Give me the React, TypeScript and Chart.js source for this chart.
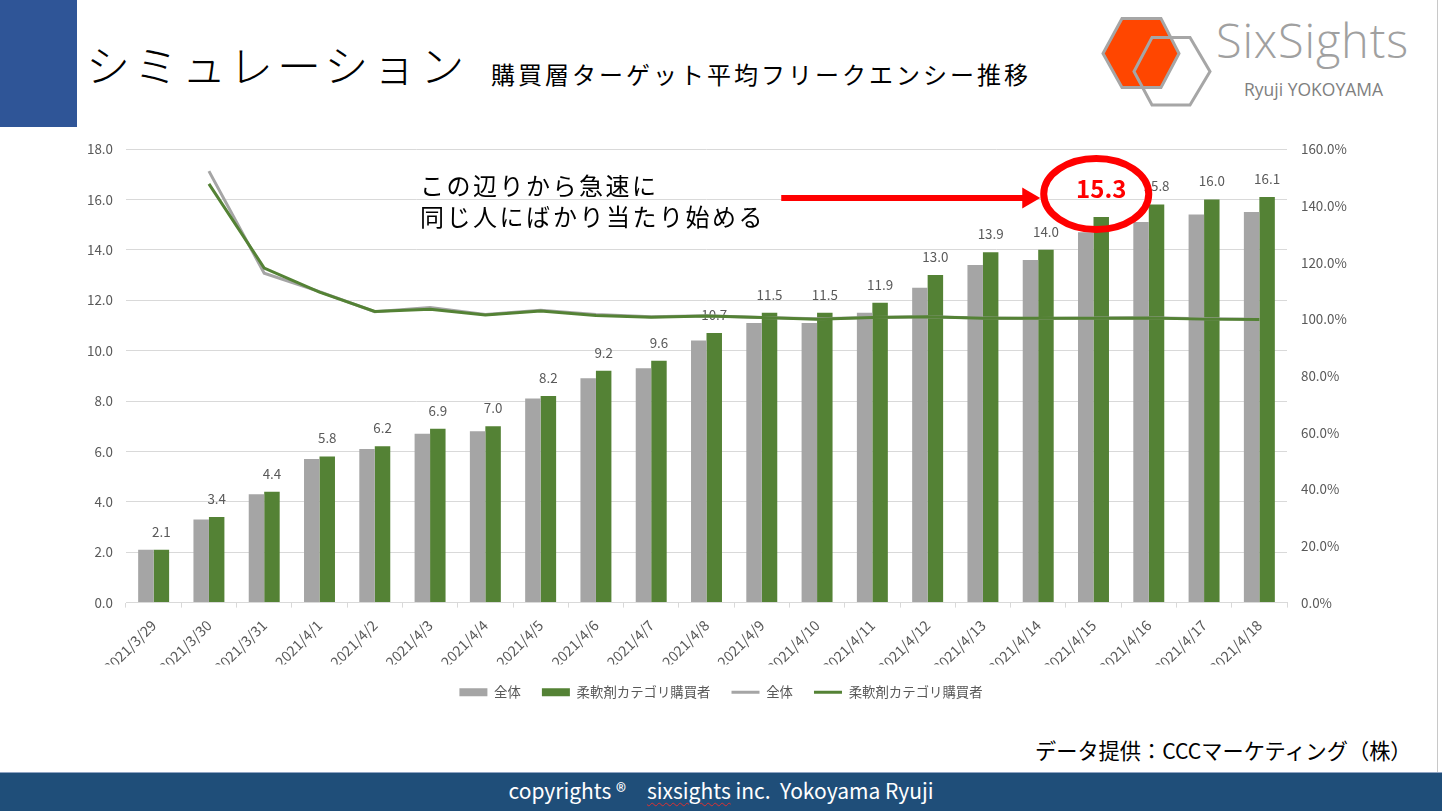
import React, { useEffect, useRef } from "react";
import { Chart, registerables } from "chart.js";

Chart.register(...registerables);

// ---------- data ----------
const categories = [
  "2021/3/29", "2021/3/30", "2021/3/31", "2021/4/1", "2021/4/2", "2021/4/3", "2021/4/4",
  "2021/4/5", "2021/4/6", "2021/4/7", "2021/4/8", "2021/4/9", "2021/4/10", "2021/4/11",
  "2021/4/12", "2021/4/13", "2021/4/14", "2021/4/15", "2021/4/16", "2021/4/17", "2021/4/18",
];
// average frequency (left axis)
const totalFreq = [2.1, 3.3, 4.3, 5.7, 6.1, 6.7, 6.8, 8.1, 8.9, 9.3, 10.4, 11.1, 11.1, 11.5, 12.5, 13.4, 13.6, 14.7, 15.1, 15.4, 15.5];
const softenerFreq = [2.1, 3.4, 4.4, 5.8, 6.2, 6.9, 7.0, 8.2, 9.2, 9.6, 10.7, 11.5, 11.5, 11.9, 13.0, 13.9, 14.0, 15.3, 15.8, 16.0, 16.1];
// day-over-day ratio in % (right axis)
const totalRatio = [null, 152.2, 116.2, 109.7, 102.6, 104.1, 101.6, 103.1, 101.6, 100.8, 101.2, 100.6, 100.1, 100.6, 100.8, 100.4, 100.2, 100.4, 100.5, 100.1, 100.0];
const softenerRatio = [null, 147.7, 118.0, 109.5, 102.7, 103.5, 101.5, 102.9, 101.3, 100.7, 101.1, 100.6, 100.0, 100.6, 100.8, 100.3, 100.3, 100.3, 100.4, 100.0, 99.9];

const leftMax = 18;
const leftStep = 2;
const rightMax = 160;
const rightStep = 20;
const highlightIndex = 17;

const seriesNames = ["全体", "柔軟剤カテゴリ購買者"];

// ---------- styles ----------
const GREY = "#A5A5A5";
const GREEN = "#548235";
const TXT = "#595959";
const GRID = "#D9D9D9";
const RED = "#FF0000";
const FONT = "'Noto Sans CJK JP', 'Noto Sans', sans-serif";

const labelPlugin = {
  id: "barValueLabels",
  afterDatasetDraw(chart: any, args: any) {
    if (args.index !== 1) return;
    const ctx = chart.ctx;
    const meta = chart.getDatasetMeta(1);
    ctx.save();
    ctx.textAlign = "center";
    ctx.textBaseline = "alphabetic";
    ctx.font = `13.4px ${FONT}`;
    ctx.fillStyle = TXT;
    meta.data.forEach((el: any, i: number) => {
      if (i === highlightIndex) return;
      ctx.fillText(softenerFreq[i].toFixed(1), el.x, el.y - 13);
    });
    ctx.restore();
  },
};

const highlightPlugin = {
  id: "highlight",
  afterDraw(chart: any) {
    const ctx = chart.ctx;
    const el = chart.getDatasetMeta(1).data[highlightIndex];
    if (!el) return;
    const cx = el.x - 5;
    const cy = el.y - 23;
    const rx = 52.5;
    const ry = 35.5;
    ctx.save();
    // ellipse
    ctx.strokeStyle = RED;
    ctx.lineWidth = 7;
    ctx.beginPath();
    ctx.ellipse(cx, cy, rx, ry, 0, 0, Math.PI * 2);
    ctx.stroke();
    // value
    ctx.fillStyle = RED;
    ctx.font = `bold 24px ${FONT}`;
    ctx.textAlign = "center";
    ctx.textBaseline = "alphabetic";
    ctx.fillText(softenerFreq[highlightIndex].toFixed(1), el.x, el.y - 19.4);
    // arrow
    const tipX = cx - rx - 3.5;
    const ay = el.y - 19;
    const headLen = 18;
    ctx.strokeStyle = RED;
    ctx.lineWidth = 6;
    ctx.beginPath();
    ctx.moveTo(tipX - 259, ay);
    ctx.lineTo(tipX - headLen + 2, ay);
    ctx.stroke();
    ctx.beginPath();
    ctx.moveTo(tipX, ay);
    ctx.lineTo(tipX - headLen, ay - 10.5);
    ctx.lineTo(tipX - headLen, ay + 10.5);
    ctx.closePath();
    ctx.fill();
    ctx.restore();
  },
};

function FrequencyChart() {
  const ref = useRef<HTMLCanvasElement | null>(null);
  useEffect(() => {
    if (!ref.current) return;
    const chart = new Chart(ref.current, {
      type: "bar",
      data: {
        labels: categories,
        datasets: [
          {
            type: "bar",
            label: seriesNames[0],
            data: totalFreq,
            backgroundColor: GREY,
            yAxisID: "y",
            order: 2,
            barPercentage: 1,
            categoryPercentage: 0.56,
          },
          {
            type: "bar",
            label: seriesNames[1],
            data: softenerFreq,
            backgroundColor: GREEN,
            yAxisID: "y",
            order: 3,
            barPercentage: 1,
            categoryPercentage: 0.56,
          },
          {
            type: "line",
            label: seriesNames[0],
            data: totalRatio,
            borderColor: GREY,
            backgroundColor: GREY,
            borderWidth: 3,
            pointRadius: 0,
            tension: 0,
            yAxisID: "y1",
            order: 1,
          },
          {
            type: "line",
            label: seriesNames[1],
            data: softenerRatio,
            borderColor: GREEN,
            backgroundColor: GREEN,
            borderWidth: 3,
            pointRadius: 0,
            tension: 0,
            yAxisID: "y1",
            order: 0,
          },
        ] as any,
      },
      options: {
        animation: false,
        responsive: true,
        maintainAspectRatio: false,
        layout: { padding: { top: 16, left: 0, right: 0, bottom: 0 } },
        font: { family: FONT } as any,
        plugins: {
          tooltip: { enabled: false },
          legend: {
            position: "bottom",
            labels: {
              usePointStyle: true,
              pointStyleWidth: 28,
              boxHeight: 8,
              padding: 21,
              color: TXT,
              font: { size: 13.4, family: FONT },
              generateLabels: () => [
                { text: seriesNames[0], fillStyle: GREY, strokeStyle: GREY, lineWidth: 0, pointStyle: "rect", datasetIndex: 0, hidden: false, fontColor: TXT },
                { text: seriesNames[1], fillStyle: GREEN, strokeStyle: GREEN, lineWidth: 0, pointStyle: "rect", datasetIndex: 1, hidden: false, fontColor: TXT },
                { text: seriesNames[0], fillStyle: GREY, strokeStyle: GREY, lineWidth: 3, pointStyle: "line", datasetIndex: 2, hidden: false, fontColor: TXT },
                { text: seriesNames[1], fillStyle: GREEN, strokeStyle: GREEN, lineWidth: 3, pointStyle: "line", datasetIndex: 3, hidden: false, fontColor: TXT },
              ] as any,
            },
          },
        },
        scales: {
          x: {
            grid: { display: true, drawOnChartArea: false, drawTicks: true, tickLength: 5, color: GRID, offset: true },
            border: { color: GRID },
            ticks: { color: TXT, font: { size: 14.4, family: FONT }, maxRotation: 45, minRotation: 45, autoSkip: false, padding: 9 },
            afterFit: (s: any) => { s.height = 62; },
          },
          y: {
            position: "left",
            min: 0,
            max: leftMax,
            ticks: { stepSize: leftStep, color: TXT, font: { size: 13.4, family: FONT }, padding: 13, callback: (v: any) => Number(v).toFixed(1) },
            grid: { color: GRID, drawTicks: false },
            border: { display: false },
            afterFit: (s: any) => { s.width = 126; },
          },
          y1: {
            position: "right",
            min: 0,
            max: rightMax,
            ticks: { stepSize: rightStep, color: TXT, font: { size: 13.4, family: FONT }, padding: 14, callback: (v: any) => Number(v).toFixed(1) + "%" },
            grid: { display: false, drawTicks: false },
            border: { display: false },
            afterFit: (s: any) => { s.width = 155; },
          },
        },
      } as any,
      plugins: [labelPlugin, highlightPlugin],
    });
    return () => chart.destroy();
  }, []);
  return <canvas ref={ref} />;
}

const abs = (o: React.CSSProperties): React.CSSProperties => ({ position: "absolute", margin: 0, whiteSpace: "pre", lineHeight: 1, ...o });

export default function App() {
  return (
    <div style={{ position: "absolute", left: 0, top: 0, width: 1442, height: 811, overflow: "hidden", background: "#fff", fontFamily: FONT }}>
      {/* left blue block */}
      <div style={abs({ left: 0, top: 0, width: 77, height: 127, background: "#2F5597" })} />
      {/* right slide edge */}
      <div style={abs({ left: 1437, top: 0, width: 1, height: 772, background: "#C8C8C8" })} />
      {/* title */}
      <div style={abs({ left: 86, top: 42, fontSize: 44, letterSpacing: 4, fontWeight: 300, color: "#000" })}>シミュレーション</div>
      <div style={abs({ left: 491, top: 62, fontSize: 24, letterSpacing: 3, fontWeight: 400, color: "#000" })}>購買層ターゲット平均フリークエンシー推移</div>

      {/* logo */}
      <svg style={{ position: "absolute", left: 0, top: 0 }} width={1442} height={130}>
        <polygon points="1103,53.5 1122,18.5 1161,18.5 1179,53.5 1161,87.5 1122,87.5" fill="#FF4600" stroke="#A6A6A6" strokeWidth={3} />
        <polygon points="1134,71.5 1152,37.5 1190,37.5 1210,71.5 1190,105 1152,105" fill="none" stroke="#A6A6A6" strokeWidth={3} />
      </svg>
      <div style={abs({ left: 1216, top: 17, fontSize: 47, fontWeight: 300, letterSpacing: 0.8, color: "#A0A0A0", fontFamily: "'Open Sans', 'Noto Sans', sans-serif" })}>SixSights</div>
      <div style={abs({ left: 1244, top: 81, fontSize: 17.5, color: "#7F7F7F", fontFamily: "'Open Sans', 'Noto Sans', sans-serif" })}>Ryuji YOKOYAMA</div>

      {/* chart */}
      <div style={{ position: "absolute", left: 0, top: 127, width: 1442, height: 582 }}>
        <FrequencyChart />
      </div>

      {/* annotation text */}
      <div style={abs({ left: 420, top: 169, fontSize: 24, letterSpacing: 2.5, color: "#000", lineHeight: "31px" })}>{"この辺りから急速に\n同じ人にばかり当たり始める"}</div>

      {/* source */}
      <div style={abs({ left: 1035, top: 739, fontSize: 21.2, color: "#000" })}>データ提供：CCCマーケティング（株）</div>

      {/* footer */}
      <div style={abs({ left: 0, top: 772, width: 1442, height: 39, background: "#1F4E79", borderTop: "1px solid #8EA3C2", boxSizing: "border-box" })} />
      <div style={abs({ left: 0, top: 780, width: 1442, textAlign: "center", fontSize: 21, color: "#fff" })}>
        {"copyrights ®　"}
        <span style={{ textDecoration: "underline wavy #E03030", textDecorationThickness: 1, textUnderlineOffset: 3 }}>sixsights</span>
        {" inc.  Yokoyama Ryuji"}
      </div>
    </div>
  );
}
